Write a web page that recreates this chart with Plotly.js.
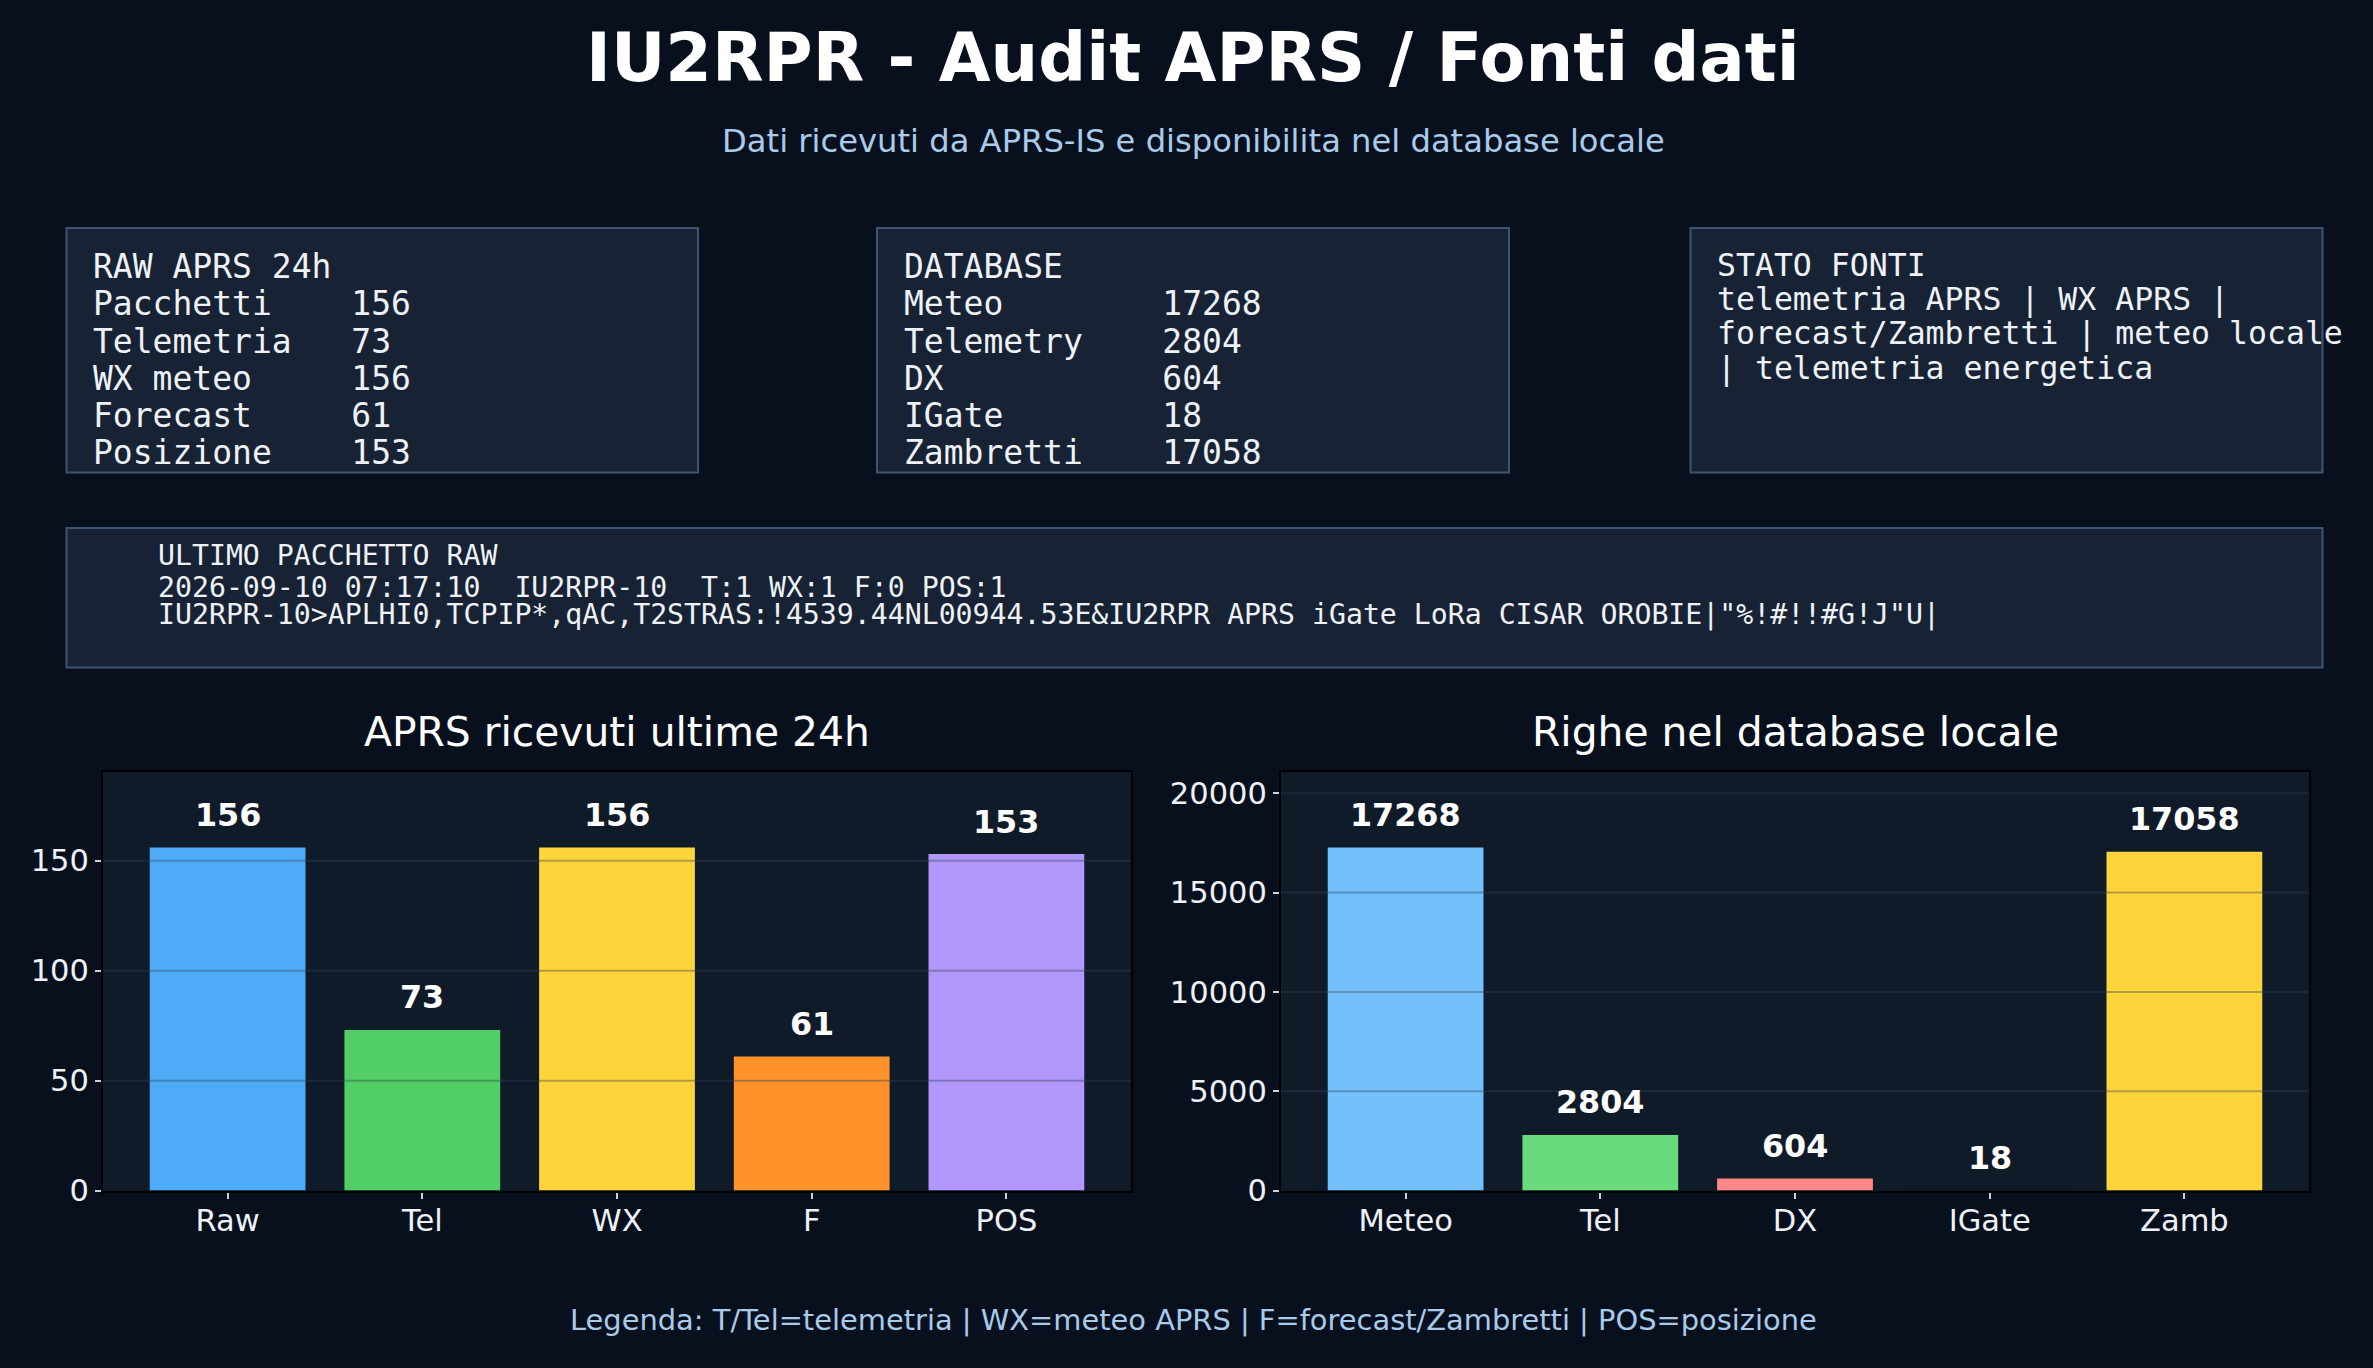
<!DOCTYPE html>
<html>
<head>
<meta charset="utf-8">
<script src="https://cdn.plot.ly/plotly-3.0.1.min.js"></script>
<style>html,body{margin:0;padding:0;background:#08101e;}</style>
</head>
<body>
<div id="chart" style="width:2373px;height:1368px;"></div>
<script>
// dati APRS ricevuti ultime 24h
var rawLabels = ['Raw', 'Tel', 'WX', 'F', 'POS'];
var rawCounts = [156, 73, 156, 61, 153];
var rawColors = ['#4dabf7', '#51cf66', '#ffd43b', '#ff922b', '#b197fc'];
var rawTicks = [0, 50, 100, 150];

// righe nel database locale
var dbLabels = ['Meteo', 'Tel', 'DX', 'IGate', 'Zamb'];
var dbCounts = [17268, 2804, 604, 18, 17058];
var dbColors = ['#74c0fc', '#69db7c', '#ff8787', '#0a1220', '#ffd43b'];
var dbTicks = [0, 5000, 10000, 15000, 20000];

// testi dei riquadri
var rawBoxNames = ['Pacchetti', 'Telemetria', 'WX meteo', 'Forecast', 'Posizione'];
var rawBoxValues = [156, 73, 156, 61, 153];
var dbBoxNames = ['Meteo', 'Telemetry', 'DX', 'IGate', 'Zambretti'];
var dbBoxValues = [17268, 2804, 604, 18, 17058];
var statoFonti = ['STATO FONTI', 'telemetria APRS | WX APRS |', 'forecast/Zambretti | meteo locale', '| telemetria energetica'];
var lastPacket = ['ULTIMO PACCHETTO RAW',
  '2026-09-10 07:17:10  IU2RPR-10  T:1 WX:1 F:0 POS:1',
  'IU2RPR-10>APLHI0,TCPIP*,qAC,T2STRAS:!4539.44NL00944.53E&IU2RPR APRS iGate LoRa CISAR OROBIE|"%!#!!#G!J"U|'];

var W = 2373, H = 1368;
var SANS = 'DejaVu Sans, Verdana, sans-serif';
var MONO = 'DejaVu Sans Mono, monospace';
function px(x) { return x / W; }
function py(y) { return 1 - y / H; }

function esc(s) {
  return s.replace(/&/g, '&amp;').replace(/</g, '&lt;').replace(/>/g, '&gt;').replace(/ /g, '\u00a0');
}

var annotations = [];
function label(text, x, y, size, color, opts) {
  var a = {
    text: text, xref: 'paper', yref: 'paper', x: px(x), y: py(y),
    xanchor: 'center', yanchor: 'middle', showarrow: false,
    font: {family: SANS, size: size, color: color}
  };
  for (var k in (opts || {})) a[k] = opts[k];
  annotations.push(a);
}
function monoLine(text, x, y, size) {
  label(esc(text), x, y, size, '#eef2f7', {xanchor: 'left', font: {family: MONO, size: size, color: '#eef2f7'}});
}
function pad(s) { while (s.length < 13) s += ' '; return s; }

// titoli
label('IU2RPR - Audit APRS / Fonti dati', 1193, 58, 67, '#ffffff', {font: {family: SANS, size: 67, color: '#ffffff', weight: 'bold'}});
label('Dati ricevuti da APRS-IS e disponibilita nel database locale', 1193, 141, 32.2, '#a9cbea');
label('Legenda: T/Tel=telemetria | WX=meteo APRS | F=forecast/Zambretti | POS=posizione', 1193, 1320, 28.9, '#a9cbea');
label('APRS ricevuti ultime 24h', 617, 732, 40.8, '#ffffff');
label('Righe nel database locale', 1795, 732, 40.8, '#ffffff');

// riquadri di testo
monoLine('RAW APRS 24h', 91, 266.5, 33);
rawBoxNames.forEach(function (n, i) { monoLine(pad(n) + rawBoxValues[i], 91, 266.5 + (i + 1) * 37.3, 33); });
monoLine('DATABASE', 902, 266.5, 33);
dbBoxNames.forEach(function (n, i) { monoLine(pad(n) + dbBoxValues[i], 902, 266.5 + (i + 1) * 37.3, 33); });
statoFonti.forEach(function (t, i) { monoLine(t, 1715, 265.5 + i * 34.2, 31.5); });
var packetY = [555, 587.5, 614];
lastPacket.forEach(function (t, i) { monoLine(t, 156, packetY[i], 28.2); });

// etichette valori sopra le barre
function valueLabels(cats, vals, xr, yr) {
  var top = Math.max.apply(null, vals);
  cats.forEach(function (c, i) {
    annotations.push({
      text: String(vals[i]), xref: xr, yref: yr, x: c, y: vals[i] + top * 0.06,
      xanchor: 'center', yanchor: 'bottom', yshift: -8, showarrow: false,
      font: {family: SANS, size: 31.8, color: '#ffffff', weight: 'bold'}
    });
  });
}
valueLabels(rawLabels, rawCounts, 'x', 'y');
valueLabels(dbLabels, dbCounts, 'x2', 'y2');

var shapes = [
  {type: 'rect', xref: 'paper', yref: 'paper', x0: px(66.5), x1: px(698), y0: py(228), y1: py(472.5), fillcolor: '#172334', line: {color: '#3e5571', width: 2}, layer: 'below'},
  {type: 'rect', xref: 'paper', yref: 'paper', x0: px(877), x1: px(1509), y0: py(228), y1: py(472.5), fillcolor: '#172334', line: {color: '#3e5571', width: 2}, layer: 'below'},
  {type: 'rect', xref: 'paper', yref: 'paper', x0: px(1690.5), x1: px(2322.5), y0: py(228), y1: py(472.5), fillcolor: '#172334', line: {color: '#3e5571', width: 2}, layer: 'below'},
  {type: 'rect', xref: 'paper', yref: 'paper', x0: px(66.5), x1: px(2322.5), y0: py(528), y1: py(667.5), fillcolor: '#172334', line: {color: '#3e5571', width: 2}, layer: 'below'}
];
// griglia orizzontale sopra le barre
function gridLines(ticks, xr, yr) {
  ticks.forEach(function (t) {
    if (t === 0) return;
    shapes.push({type: 'line', xref: xr + ' domain', yref: yr, x0: 0, x1: 1, y0: t, y1: t,
      line: {color: 'rgba(51,65,85,0.38)', width: 2}, layer: 'above'});
  });
}
gridLines(rawTicks, 'x', 'y');
gridLines(dbTicks, 'x2', 'y2');

var data = [
  {type: 'bar', x: rawLabels, y: rawCounts, marker: {color: rawColors}, width: 0.8, xaxis: 'x', yaxis: 'y', hoverinfo: 'skip'},
  {type: 'bar', x: dbLabels, y: dbCounts, marker: {color: dbColors}, width: 0.8, xaxis: 'x2', yaxis: 'y2', hoverinfo: 'skip'}
];

function xAxis(domain) {
  return {
    domain: domain, range: [-0.64, 4.64], type: 'category',
    showline: true, linecolor: '#000000', linewidth: 2, mirror: true,
    ticks: 'outside', ticklen: 6, tickwidth: 2, tickcolor: '#c9d1d9',
    ticklabelstandoff: -4,
    tickfont: {family: SANS, size: 30.5, color: '#eef2f7'},
    showgrid: false, zeroline: false, fixedrange: true
  };
}
function yAxis(domain, anchor, ticks, vals) {
  return {
    domain: domain, anchor: anchor, range: [0, Math.max.apply(null, vals) * 1.22],
    tickvals: ticks, tickformat: 'd',
    showline: true, linecolor: '#000000', linewidth: 2, mirror: true,
    ticks: 'outside', ticklen: 6, tickwidth: 2, tickcolor: '#c9d1d9',
    tickfont: {family: SANS, size: 30.5, color: '#eef2f7'},
    showgrid: false, zeroline: false, fixedrange: true
  };
}

var yDomain = [py(1190.6), py(772)];
var layout = {
  width: W, height: H,
  margin: {l: 0, r: 0, t: 0, b: 0},
  paper_bgcolor: '#08101e', plot_bgcolor: '#101b2a',
  showlegend: false,
  xaxis: Object.assign(xAxis([px(103), px(1131)]), {anchor: 'y'}),
  yaxis: yAxis(yDomain, 'x', rawTicks, rawCounts),
  xaxis2: Object.assign(xAxis([px(1281), px(2309)]), {anchor: 'y2'}),
  yaxis2: yAxis(yDomain, 'x2', dbTicks, dbCounts),
  annotations: annotations,
  shapes: shapes
};

Plotly.newPlot('chart', data, layout, {staticPlot: true, displayModeBar: false});
</script>
</body>
</html>
